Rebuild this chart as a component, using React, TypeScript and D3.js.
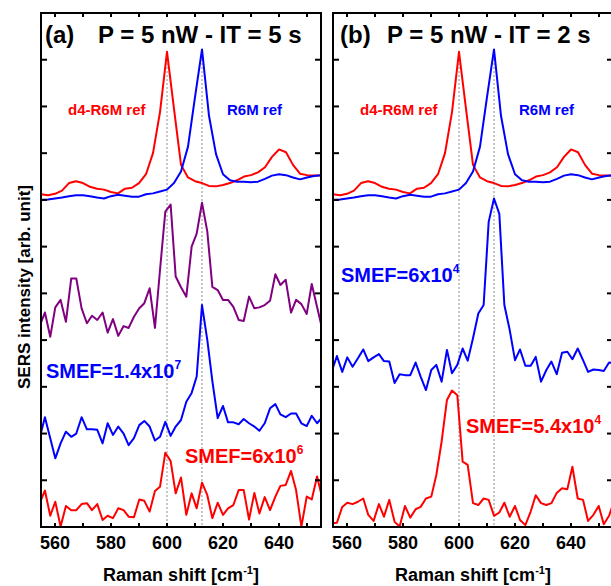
import { useRef, useEffect } from "react";
import * as d3 from "d3";

// Raman shift grid of the measured (noisy) spectra, cm-1
const RAMAN = [554.5, 556.4, 558.3, 560.1, 562.0, 563.9, 565.8, 567.6, 569.5, 571.4, 573.2, 575.1, 577.0, 578.8, 580.7, 582.6, 584.5, 586.3, 588.2, 590.1, 591.9, 593.8, 595.7, 597.5, 599.4, 601.3, 603.1, 605.0, 606.9, 608.8, 610.6, 612.5, 614.4, 616.2, 618.1, 620.0, 621.8, 623.7, 625.6, 627.4, 629.3, 631.2, 633.0, 634.9, 636.8, 638.7, 640.5, 642.4, 644.3, 646.1, 648.0, 649.9, 651.7, 653.6, 655.5];

// Raman shift grid of the reference spectra
const REF_SHIFT = [555, 557.5, 560, 562.5, 565, 567.5, 570, 572.5, 575, 577.5, 580, 582.5, 585, 587.5, 590, 592.5, 595, 597.5, 600, 602.5, 605, 607.5, 610, 612.5, 615, 617.5, 620, 622.5, 625, 627.5, 630, 632.5, 635, 637.5, 640, 642.5, 645, 647.5, 650, 652.5, 655];

// reference spectra (offset, arb. unit)
const d4Ref = [7.12, 7.10, 7.13, 7.20, 7.36, 7.40, 7.36, 7.28, 7.24, 7.22, 7.17, 7.14, 7.24, 7.26, 7.36, 7.55, 8.00, 8.88, 10.17, 8.95, 7.75, 7.48, 7.40, 7.36, 7.30, 7.29, 7.32, 7.36, 7.42, 7.50, 7.53, 7.59, 7.70, 7.92, 8.08, 8.02, 7.75, 7.56, 7.53, 7.52, 7.52];
const r6mRef = [7.00, 7.01, 7.03, 7.05, 7.08, 7.10, 7.10, 7.08, 7.05, 7.03, 7.08, 7.11, 7.09, 7.07, 7.07, 7.12, 7.14, 7.18, 7.22, 7.36, 7.61, 8.14, 9.20, 10.22, 8.80, 7.98, 7.55, 7.42, 7.39, 7.39, 7.38, 7.39, 7.45, 7.52, 7.55, 7.53, 7.48, 7.44, 7.48, 7.51, 7.53];

// panel (a): 5 nW, 5 s
const mixA = [4.30, 4.59, 4.07, 4.70, 4.86, 4.39, 5.32, 5.32, 4.68, 4.36, 4.52, 4.43, 4.59, 4.16, 4.45, 4.09, 4.30, 4.26, 4.50, 4.68, 4.79, 5.11, 4.26, 5.50, 6.75, 6.90, 5.36, 5.13, 4.93, 6.00, 6.28, 6.94, 6.32, 5.14, 5.07, 4.86, 4.86, 4.71, 4.43, 4.41, 4.93, 4.68, 4.70, 4.75, 4.84, 5.41, 5.18, 5.29, 4.59, 4.86, 4.77, 4.56, 5.20, 4.71, 4.22];
const r6mA = [1.90, 2.35, 1.90, 1.47, 1.79, 2.04, 1.93, 2.00, 2.35, 2.09, 2.09, 2.08, 1.79, 2.22, 1.97, 2.15, 2.00, 1.75, 1.90, 2.18, 2.27, 2.15, 1.85, 1.93, 2.25, 1.95, 2.15, 2.29, 2.68, 2.87, 3.22, 4.75, 4.00, 3.12, 2.33, 2.59, 2.24, 2.24, 2.20, 2.31, 2.22, 2.15, 2.06, 2.22, 2.54, 2.63, 2.41, 2.35, 2.43, 2.43, 2.22, 2.16, 2.38, 2.22, 2.35];
const d4A = [0.51, 0.78, 0.24, 0.54, 0.01, 0.45, 0.36, 0.36, 0.49, 0.51, 0.36, 0.49, 0.15, 0.24, 0.19, 0.40, 0.36, 0.22, 0.21, 0.59, 0.56, 0.33, 0.77, 0.86, 1.59, 1.41, 0.72, 1.06, 0.26, 0.72, 0.40, 0.95, 0.68, 0.19, 0.52, 0.26, 0.40, 0.47, 0.79, 0.79, 0.16, 0.73, 0.29, 0.64, 0.36, 0.65, 0.88, 0.90, 1.20, 0.79, 0.01, 0.65, 0.59, 1.08, 0.61];

// panel (b): 5 nW, 2 s
const r6mB = [3.32, 3.66, 3.32, 3.63, 3.43, 3.61, 3.80, 3.55, 3.63, 3.70, 3.55, 3.54, 3.08, 3.27, 3.25, 3.25, 3.52, 3.22, 2.93, 3.36, 3.47, 3.11, 3.79, 3.29, 3.47, 3.82, 3.56, 4.04, 4.57, 4.75, 6.53, 7.03, 6.70, 4.75, 4.22, 3.57, 3.80, 3.45, 3.45, 3.64, 3.11, 3.36, 3.54, 3.27, 3.73, 3.75, 3.59, 3.82, 3.57, 3.32, 3.37, 3.36, 3.34, 3.52, 3.50];
const d4B = [0.08, 0.09, 0.43, 0.52, 0.49, 0.54, 0.61, 0.26, 0.13, 0.49, 0.22, 0.58, 0.11, 0.01, 0.45, 0.20, 0.38, 0.43, 0.61, 0.65, 1.11, 1.83, 2.72, 2.92, 2.82, 1.40, 1.33, 0.51, 0.47, 0.61, 0.58, 0.24, 0.31, 0.52, 0.22, 0.45, 0.15, 0.04, 0.33, 0.68, 0.51, 0.47, 0.51, 0.73, 0.83, 0.81, 1.29, 0.61, 0.58, 0.13, 0.26, 0.45, 0.06, 0.24, 0.58];

const xTicks = [560, 570, 580, 590, 600, 610, 620, 630, 640, 650];
const xTickLabels = [560, 580, 600, 620, 640];
const yTicks = [1, 2, 3, 4, 5, 6, 7, 8, 9, 10];
const peakLines = [600, 612.5];

const RED = "#ff0000";
const BLUE = "#0000ff";
const PURPLE = "#800080";

function App() {
  const ref = useRef(null);

  useEffect(() => {
    const svg = d3.select(ref.current);
    svg.selectAll("*").remove();

    const top = 13, bottom = 527, plotW = 280;
    const font = "'Liberation Sans', Arial, Helvetica, sans-serif";
    const y = d3.scaleLinear().domain([0, 11]).range([bottom, top]);

    const panels = [
      {
        key: "a", left: 41, tag: "(a)", tagX: 45, titleX: 98, title: "P = 5 nW - IT = 5 s",
        refX: [68, 227],
        traces: [
          { xs: REF_SHIFT, ys: d4Ref, color: RED },
          { xs: REF_SHIFT, ys: r6mRef, color: BLUE },
          { xs: RAMAN, ys: mixA, color: PURPLE },
          { xs: RAMAN, ys: r6mA, color: BLUE },
          { xs: RAMAN, ys: d4A, color: RED },
        ],
        smef: [
          { base: "SMEF=1.4x10", sup: "7", x: 46, y: 378, color: BLUE },
          { base: "SMEF=6x10", sup: "6", x: 185, y: 463, color: RED },
        ],
      },
      {
        key: "b", left: 333, tag: "(b)", tagX: 340, titleX: 387, title: "P = 5 nW - IT = 2 s",
        refX: [360, 519],
        traces: [
          { xs: REF_SHIFT, ys: d4Ref, color: RED },
          { xs: REF_SHIFT, ys: r6mRef, color: BLUE },
          { xs: RAMAN, ys: r6mB, color: BLUE },
          { xs: RAMAN, ys: d4B, color: RED },
        ],
        smef: [
          { base: "SMEF=6x10", sup: "4", x: 341, y: 282, color: BLUE },
          { base: "SMEF=5.4x10", sup: "4", x: 466, y: 433, color: RED },
        ],
      },
    ];

    panels.forEach((p) => {
      const x = d3.scaleLinear().domain([555, 655]).range([p.left, p.left + plotW]);
      const g = svg.append("g");

      const clipId = "clip-" + p.key;
      svg.append("clipPath").attr("id", clipId)
        .append("rect")
        .attr("x", p.left).attr("y", top)
        .attr("width", plotW).attr("height", bottom - top);

      // dotted peak markers
      g.selectAll(".peak")
        .data(peakLines)
        .enter().append("line")
        .attr("x1", (d) => x(d)).attr("x2", (d) => x(d))
        .attr("y1", y(10.1)).attr("y2", y(0))
        .attr("stroke", "#8c8c8c")
        .attr("stroke-width", 1)
        .attr("stroke-dasharray", "2,2");

      const traces = g.append("g").attr("clip-path", "url(#" + clipId + ")");
      p.traces.forEach((t) => {
        const line = d3.line()
          .x((d, i) => x(t.xs[i]))
          .y((d) => y(d));
        traces.append("path")
          .datum(t.ys)
          .attr("d", line)
          .attr("fill", "none")
          .attr("stroke", t.color)
          .attr("stroke-width", 2)
          .attr("stroke-linejoin", "round");
      });

      // frame
      g.append("rect")
        .attr("x", p.left).attr("y", top)
        .attr("width", plotW).attr("height", bottom - top)
        .attr("fill", "none")
        .attr("stroke", "#000")
        .attr("stroke-width", 2);

      // inward ticks: bottom & top
      xTicks.forEach((v) => {
        g.append("line")
          .attr("x1", x(v)).attr("x2", x(v))
          .attr("y1", bottom).attr("y2", bottom - 4)
          .attr("stroke", "#000").attr("stroke-width", 2);
        g.append("line")
          .attr("x1", x(v)).attr("x2", x(v))
          .attr("y1", top).attr("y2", top + 4)
          .attr("stroke", "#000").attr("stroke-width", 2);
      });
      // inward ticks: left & right
      yTicks.forEach((v) => {
        g.append("line")
          .attr("x1", p.left).attr("x2", p.left + 6)
          .attr("y1", y(v)).attr("y2", y(v))
          .attr("stroke", "#000").attr("stroke-width", 2);
        g.append("line")
          .attr("x1", p.left + plotW).attr("x2", p.left + plotW - 6)
          .attr("y1", y(v)).attr("y2", y(v))
          .attr("stroke", "#000").attr("stroke-width", 2);
      });

      g.selectAll(".xlab")
        .data(xTickLabels)
        .enter().append("text")
        .attr("x", (d) => x(d))
        .attr("y", 549)
        .attr("text-anchor", "middle")
        .attr("font-family", font)
        .attr("font-weight", "bold")
        .attr("font-size", 18)
        .text((d) => d);

      const xt = g.append("text")
        .attr("x", p.left + plotW / 2)
        .attr("y", 581)
        .attr("text-anchor", "middle")
        .attr("font-family", font)
        .attr("font-weight", "bold")
        .attr("font-size", 18);
      xt.append("tspan").text("Raman shift [cm");
      xt.append("tspan").attr("dy", -7).attr("font-size", 11).text("-1");
      xt.append("tspan").attr("dy", 7).text("]");

      // title
      g.append("text")
        .attr("x", p.tagX).attr("y", 43)
        .attr("font-family", font).attr("font-weight", "bold").attr("font-size", 24)
        .text(p.tag);
      g.append("text")
        .attr("x", p.titleX).attr("y", 43)
        .attr("font-family", font).attr("font-weight", "bold").attr("font-size", 24)
        .text(p.title);

      // reference labels
      g.append("text")
        .attr("x", p.refX[0]).attr("y", 115)
        .attr("font-family", font).attr("font-weight", "bold").attr("font-size", 15)
        .attr("fill", RED)
        .text("d4-R6M ref");
      g.append("text")
        .attr("x", p.refX[1]).attr("y", 115)
        .attr("font-family", font).attr("font-weight", "bold").attr("font-size", 15)
        .attr("fill", BLUE)
        .text("R6M ref");

      // SMEF labels
      p.smef.forEach((s) => {
        const t = g.append("text")
          .attr("x", s.x).attr("y", s.y)
          .attr("font-family", font).attr("font-weight", "bold").attr("font-size", 20)
          .attr("fill", s.color);
        t.append("tspan").text(s.base);
        t.append("tspan").attr("dy", -9).attr("font-size", 12).text(s.sup);
      });
    });

    // y axis title
    svg.append("text")
      .attr("transform", "translate(30,287) rotate(-90)")
      .attr("text-anchor", "middle")
      .attr("font-family", font)
      .attr("font-weight", "bold")
      .attr("font-size", 17)
      .text("SERS intensity [arb. unit]");
  }, []);

  return (
    <svg
      ref={ref}
      width={611}
      height={586}
      style={{ position: "absolute", left: 0, top: 0, background: "#fff" }}
    />
  );
}

export default App;
